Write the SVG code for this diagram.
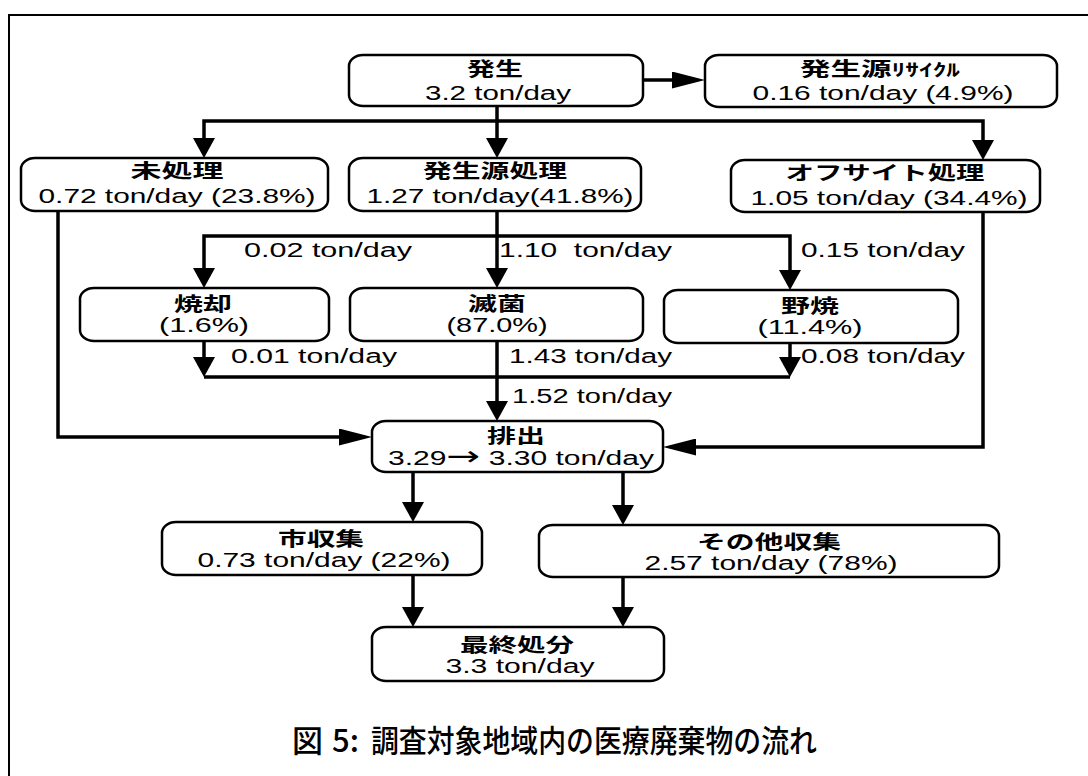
<svg xmlns="http://www.w3.org/2000/svg" width="1088" height="776" viewBox="0 0 1088 776">
<style>
.box{fill:#fff;stroke:#000;stroke-width:2.5}
.t{font-family:"Noto Sans CJK JP","Noto Sans CJK SC",sans-serif;font-weight:700;font-size:19px;text-anchor:middle;fill:#000}
.v{font-family:"Liberation Sans",Arial,sans-serif;font-size:20px;text-anchor:middle;fill:#000}
.l{font-family:"Liberation Sans",Arial,sans-serif;font-size:20px;fill:#000}
.c{stroke:#000;stroke-width:3.5;fill:none}
.cap{font-family:"Noto Sans CJK JP","Noto Sans CJK SC",sans-serif;font-size:31px;font-weight:500;fill:#000}
</style>
<defs>
<marker id="av" markerUnits="userSpaceOnUse" viewBox="0 0 20 22" refX="16" refY="11" markerWidth="20" markerHeight="22" orient="auto-start-reverse"><path d="M0,0 L20,11 L0,22 z" fill="#000"/></marker>
<marker id="ah" markerUnits="userSpaceOnUse" viewBox="0 0 33 17" refX="26" refY="8.5" markerWidth="33" markerHeight="17" orient="auto"><path d="M0,0 L33,8.5 L0,17 z" fill="#000"/></marker>
</defs>
<rect width="1088" height="776" fill="#fff"/>
<path d="M9,776 V15 H1088" fill="none" stroke="#000" stroke-width="2"/>

<g id="connectors">
<path class="c" d="M643,80 H698" marker-end="url(#ah)"/>
<path class="c" d="M497,105 V154" marker-end="url(#av)"/>
<path class="c" d="M204,154 V121 H983 V156" marker-start="url(#av)" marker-end="url(#av)"/>
<path class="c" d="M58,211 V437 H365" marker-end="url(#ah)"/>
<path class="c" d="M497,211 V284" marker-end="url(#av)"/>
<path class="c" d="M204,284 V236 H790 V286" marker-start="url(#av)" marker-end="url(#av)"/>
<path class="c" d="M204,341 V373" marker-end="url(#av)"/>
<path class="c" d="M790,343 V373" marker-end="url(#av)"/>
<path class="c" d="M204,377 H790"/>
<path class="c" d="M497,341 V417" marker-end="url(#av)"/>
<path class="c" d="M983,212 V447 H670" marker-end="url(#ah)"/>
<path class="c" d="M413,472 V518" marker-end="url(#av)"/>
<path class="c" d="M623,472 V521" marker-end="url(#av)"/>
<path class="c" d="M413,575 V623" marker-end="url(#av)"/>
<path class="c" d="M623,577 V623" marker-end="url(#av)"/>
</g>

<g id="labels">
<text class="l" x="244" y="257" textLength="168" lengthAdjust="spacingAndGlyphs">0.02 ton/day</text>
<text class="l" x="499" y="257" textLength="173" lengthAdjust="spacingAndGlyphs" xml:space="preserve">1.10  ton/day</text>
<text class="l" x="801" y="257" textLength="164" lengthAdjust="spacingAndGlyphs">0.15 ton/day</text>
<text class="l" x="231" y="363" textLength="166" lengthAdjust="spacingAndGlyphs">0.01 ton/day</text>
<text class="l" x="509" y="363" textLength="163" lengthAdjust="spacingAndGlyphs">1.43 ton/day</text>
<text class="l" x="801" y="363" textLength="164" lengthAdjust="spacingAndGlyphs">0.08 ton/day</text>
<text class="l" x="512" y="403" textLength="160" lengthAdjust="spacingAndGlyphs">1.52 ton/day</text>
</g>

<g id="n-hassei">
<rect class="box" x="349" y="55" width="294" height="51" rx="14" ry="11"/>
<text class="t" x="495" y="76" textLength="56" lengthAdjust="spacingAndGlyphs">発生</text>
<text class="v" x="498" y="100" textLength="146" lengthAdjust="spacingAndGlyphs">3.2 ton/day</text>
</g>
<g id="n-recycle">
<rect class="box" x="705" y="55" width="352" height="52" rx="14" ry="11"/>
<text class="t" x="880" y="76" textLength="160" lengthAdjust="spacingAndGlyphs">発生源<tspan font-size="17">ﾘｻｲｸﾙ</tspan></text>
<text class="v" x="883" y="100" textLength="261" lengthAdjust="spacingAndGlyphs">0.16 ton/day (4.9%)</text>
</g>
<g id="n-mishori">
<rect class="box" x="21" y="158" width="307" height="53" rx="14" ry="11"/>
<text class="t" x="177" y="178" textLength="93" lengthAdjust="spacingAndGlyphs">未処理</text>
<text class="v" x="177" y="203" textLength="277" lengthAdjust="spacingAndGlyphs">0.72 ton/day (23.8%)</text>
</g>
<g id="n-genshori">
<rect class="box" x="349" y="158" width="292" height="53" rx="14" ry="11"/>
<text class="t" x="495" y="178" textLength="144" lengthAdjust="spacingAndGlyphs">発生源処理</text>
<text class="v" x="500" y="203" textLength="267" lengthAdjust="spacingAndGlyphs">1.27 ton/day(41.8%)</text>
</g>
<g id="n-offsite">
<rect class="box" x="731" y="160" width="309" height="52" rx="14" ry="11"/>
<text class="t" x="885" y="180" textLength="199" lengthAdjust="spacingAndGlyphs">オフサイト処理</text>
<text class="v" x="889" y="205" textLength="277" lengthAdjust="spacingAndGlyphs">1.05 ton/day (34.4%)</text>
</g>
<g id="n-shokyaku">
<rect class="box" x="80" y="288" width="249" height="53" rx="14" ry="11"/>
<text class="t" x="203" y="311" textLength="58" lengthAdjust="spacingAndGlyphs">焼却</text>
<text class="v" x="204" y="332" textLength="90" lengthAdjust="spacingAndGlyphs">(1.6%)</text>
</g>
<g id="n-mekkin">
<rect class="box" x="350" y="288" width="293" height="53" rx="14" ry="11"/>
<text class="t" x="497" y="311" textLength="58" lengthAdjust="spacingAndGlyphs">滅菌</text>
<text class="v" x="497" y="332" textLength="101" lengthAdjust="spacingAndGlyphs">(87.0%)</text>
</g>
<g id="n-noyaki">
<rect class="box" x="664" y="290" width="294" height="53" rx="14" ry="11"/>
<text class="t" x="810" y="313" textLength="58" lengthAdjust="spacingAndGlyphs">野焼</text>
<text class="v" x="810" y="334" textLength="105" lengthAdjust="spacingAndGlyphs">(11.4%)</text>
</g>
<g id="n-haishutsu">
<rect class="box" x="372" y="421" width="291" height="51" rx="14" ry="11"/>
<text class="t" x="516" y="443" textLength="58" lengthAdjust="spacingAndGlyphs">排出</text>
<text class="v" x="521" y="465" textLength="266" lengthAdjust="spacingAndGlyphs">3.29<tspan font-family="DejaVu Sans" font-size="27">→</tspan> 3.30 ton/day</text>
</g>
<g id="n-shishushu">
<rect class="box" x="162" y="522" width="320" height="53" rx="14" ry="11"/>
<text class="t" x="321" y="546" textLength="86" lengthAdjust="spacingAndGlyphs">市収集</text>
<text class="v" x="324" y="567" textLength="253" lengthAdjust="spacingAndGlyphs">0.73 ton/day (22%)</text>
</g>
<g id="n-sonota">
<rect class="box" x="539" y="525" width="460" height="52" rx="14" ry="11"/>
<text class="t" x="769" y="549" textLength="144" lengthAdjust="spacingAndGlyphs">その他収集</text>
<text class="v" x="771" y="570" textLength="253" lengthAdjust="spacingAndGlyphs">2.57 ton/day (78%)</text>
</g>
<g id="n-saishu">
<rect class="box" x="372" y="627" width="292" height="54" rx="14" ry="11"/>
<text class="t" x="517" y="652" textLength="114" lengthAdjust="spacingAndGlyphs">最終処分</text>
<text class="v" x="520" y="673" textLength="149" lengthAdjust="spacingAndGlyphs">3.3 ton/day</text>
</g>

<text class="cap" y="752"><tspan x="292">図</tspan> <tspan x="332">5:</tspan> <tspan x="371" textLength="446" lengthAdjust="spacingAndGlyphs">調査対象地域内の医療廃棄物の流れ</tspan></text>
</svg>
